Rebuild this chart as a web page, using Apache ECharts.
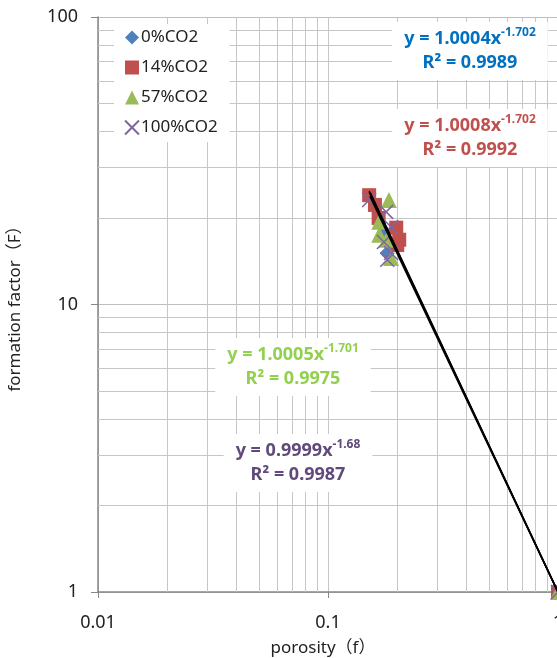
<!DOCTYPE html>
<html>
<head>
<meta charset="utf-8">
<script src="https://cdn.jsdelivr.net/npm/echarts@6/dist/echarts.min.js"></script>
<style>
  html, body { margin: 0; padding: 0; background: #fff; }
  #chart { width: 557px; height: 658px; }
</style>
</head>
<body>
<div id="chart"></div>
<script>
// porosity (f) vs formation factor (F)
var co2_0 = [[0.180, 15.1], [0.184, 16.5], [0.176, 18.0], [1, 1]]
var co2_14 = [[0.151, 24.0], [0.160, 22.2], [0.166, 20.0], [0.198, 18.5], [0.204, 16.8], [0.200, 16.1], [1, 1]]
var co2_57 = [[0.184, 23.1], [0.167, 19.4], [0.167, 17.5], [0.180, 16.8], [0.188, 14.5], [1, 1]]
var co2_100 = [[0.151, 23.1], [0.179, 21.0], [0.188, 18.6], [0.175, 16.5], [0.188, 15.1], [0.181, 14.3], [1, 1]]

// trend line end points
var trend0 = [[0.153, 24.4], [1, 1]]
var trend14 = [[0.151, 24.8], [1, 1]]
var trend57 = [[0.151, 24.6], [1, 1]]
var trend100 = [[0.152, 23.8], [1, 1]]

var minorX = [0.02, 0.03, 0.04, 0.05, 0.06, 0.07, 0.08, 0.09, 0.2, 0.3, 0.4, 0.5, 0.6, 0.7, 0.8, 0.9]
var minorY = [2, 3, 4, 5, 6, 7, 8, 9, 20, 30, 40, 50, 60, 70, 80, 90]

var seriesNames = ['0%CO2', '14%CO2', '57%CO2', '100%CO2']
var colors = ['#4F81BD', '#C0504D', '#9BBB59', '#8064A2']

var FONT = '"Noto Sans", "Noto Sans CJK SC", sans-serif'
var crossPath = 'path://M0,0L10,10M10,0L0,10'

var chart = echarts.init(document.getElementById('chart'))

function eqLabel(x, y, color, eq, exp, r2) {
  return {
    type: 'text',
    x: x,
    y: y,
    z: 100,
    style: {
      text: '{a|y = ' + eq + 'x}{s|' + exp + '}\n{a|R² = ' + r2 + '}',
      align: 'center',
      verticalAlign: 'top',
      backgroundColor: '#fff',
      padding: [5, 12, 5, 12],
      rich: {
        a: { fontSize: 18, fontWeight: 'bold', fill: color, fontFamily: FONT, lineHeight: 24, align: 'center' },
        s: { fontSize: 12, fontWeight: 'bold', fill: color, fontFamily: FONT, lineHeight: 24, verticalAlign: 'top' }
      }
    }
  }
}

var gridLine = { color: '#c6c6c6', width: 1 }

chart.setOption({
  animation: false,
  textStyle: { fontFamily: FONT },
  grid: { left: 98, top: 17, width: 460, height: 575, outerBoundsMode: 'none', containLabel: false },
  legend: {
    data: [
      { name: seriesNames[0], icon: 'diamond' },
      { name: seriesNames[1], icon: 'rect' },
      { name: seriesNames[2], icon: 'triangle' },
      { name: seriesNames[3], icon: crossPath }
    ],
    orient: 'vertical',
    left: 114,
    top: 24,
    itemWidth: 14,
    itemHeight: 14,
    itemGap: 13,
    padding: [5, 12, 6, 10],
    backgroundColor: '#fff',
    textStyle: { fontSize: 17, color: '#222', fontFamily: FONT, padding: [0, 0, 0, -3] }
  },
  xAxis: {
    type: 'log',
    logBase: 10,
    min: 0.01,
    max: 1,
    name: 'porosity（f）',
    nameLocation: 'middle',
    nameGap: 48,
    nameTextStyle: { fontSize: 17, color: '#222', padding: [0, 10, 0, 0] },
    axisLine: { lineStyle: { color: '#868686', width: 1.5 } },
    axisTick: { show: true, length: 6, inside: false, lineStyle: { color: '#868686' } },
    axisLabel: { fontSize: 18, color: '#222', margin: 22 },
    splitLine: { show: true, lineStyle: gridLine }
  },
  yAxis: {
    type: 'log',
    logBase: 10,
    min: 1,
    max: 100,
    name: 'formation factor（F）',
    nameLocation: 'middle',
    nameGap: 74,
    nameTextStyle: { fontSize: 17, color: '#222' },
    axisLine: { show: true, lineStyle: { color: '#868686', width: 1.5 } },
    axisTick: { show: true, length: 7, lineStyle: { color: '#868686' } },
    axisLabel: { fontSize: 18, color: '#222', margin: 20 },
    splitLine: { show: true, lineStyle: { color: '#bdbdbd', width: 1 } }
  },
  graphic: [
    eqLabel(470, 22, '#0070C0', '1.0004', '-1.702', '0.9989'),
    eqLabel(470, 109, '#C0504D', '1.0008', '-1.702', '0.9992'),
    eqLabel(293, 338, '#92D050', '1.0005', '-1.701', '0.9975'),
    eqLabel(298, 434, '#604A7B', '0.9999', '-1.68', '0.9987')
  ],
  series: [
    {
      type: 'scatter',
      name: 'minor grid',
      data: [],
      silent: true,
      z: 1,
      markLine: {
        silent: true,
        z: 1,
        symbol: 'none',
        label: { show: false },
        lineStyle: { color: '#c6c6c6', width: 1, type: 'solid' },
        data: minorX.map(function (v) { return { xAxis: v } })
          .concat(minorY.map(function (v) { return { yAxis: v } }))
      }
    },
    {
      type: 'scatter',
      name: seriesNames[0],
      symbol: 'diamond',
      symbolSize: 14,
      itemStyle: { color: colors[0], opacity: 1 },
      data: co2_0,
      z: 3
    },
    {
      type: 'scatter',
      name: seriesNames[1],
      symbol: 'rect',
      symbolSize: 14,
      itemStyle: { color: colors[1], opacity: 1 },
      data: co2_14,
      z: 4
    },
    {
      type: 'scatter',
      name: seriesNames[2],
      symbol: 'triangle',
      symbolSize: 16,
      itemStyle: { color: colors[2], opacity: 1 },
      data: co2_57,
      z: 5
    },
    {
      type: 'scatter',
      name: seriesNames[3],
      symbol: crossPath,
      symbolSize: 14,
      itemStyle: { color: 'rgba(0,0,0,0)', borderColor: colors[3], borderWidth: 1.5, opacity: 1 },
      data: co2_100,
      z: 6
    },
    { type: 'line', data: trend0, symbol: 'none', lineStyle: { color: '#000', width: 1.5 }, z: 7, silent: true },
    { type: 'line', data: trend14, symbol: 'none', lineStyle: { color: '#000', width: 1.5 }, z: 7, silent: true },
    { type: 'line', data: trend57, symbol: 'none', lineStyle: { color: '#000', width: 1.5 }, z: 7, silent: true },
    { type: 'line', data: trend100, symbol: 'none', lineStyle: { color: '#000', width: 1.5 }, z: 7, silent: true }
  ]
})
</script>
</body>
</html>
